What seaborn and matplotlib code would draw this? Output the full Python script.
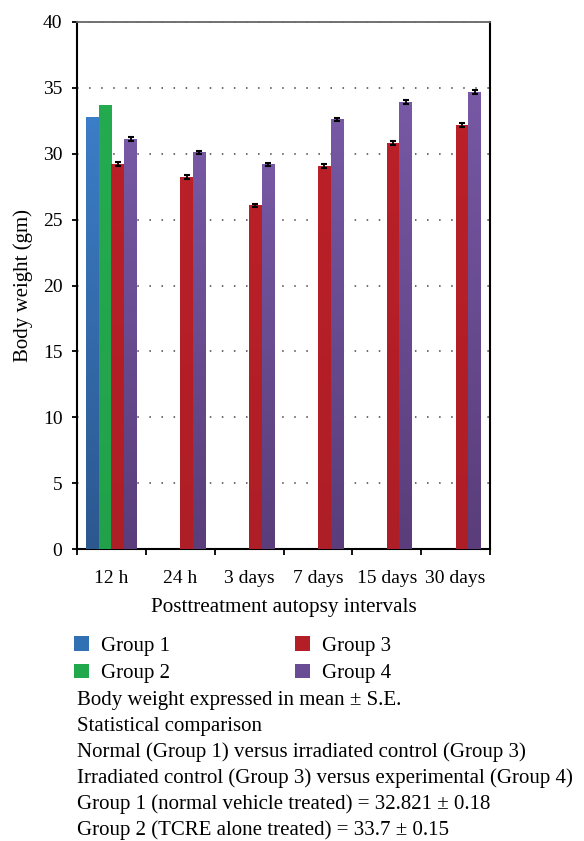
import numpy as np
import pandas as pd
import matplotlib
matplotlib.use("Agg")
import matplotlib.pyplot as plt
from matplotlib.colors import LinearSegmentedColormap
import seaborn as sns

# Data: body weight (gm) by post-treatment autopsy interval
intervals = ["12 h", "24 h", "3 days", "7 days", "15 days", "30 days"]
groups = ["Group 1", "Group 2", "Group 3", "Group 4"]
group1 = [32.821, np.nan, np.nan, np.nan, np.nan, np.nan]
group2 = [33.7, np.nan, np.nan, np.nan, np.nan, np.nan]
group3 = [29.2, 28.2, 26.1, 29.1, 30.8, 32.2]
group4 = [31.1, 30.1, 29.2, 32.6, 33.9, 34.7]
se3 = [0.15, 0.15, 0.12, 0.15, 0.15, 0.15]
se4 = [0.15, 0.12, 0.12, 0.10, 0.15, 0.15]
yticks = [0, 5, 10, 15, 20, 25, 30, 35, 40]

notes = [
    "Body weight expressed in mean \u00b1 S.E.",
    "Statistical comparison",
    "Normal (Group 1) versus irradiated control (Group 3)",
    "Irradiated control (Group 3) versus experimental (Group 4)",
    "Group 1 (normal vehicle treated) = 32.821 \u00b1 0.18",
    "Group 2 (TCRE alone treated) = 33.7 \u00b1 0.15",
]

palette = {"Group 1": "#3270b4", "Group 2": "#22a84c",
           "Group 3": "#b41f27", "Group 4": "#6a4c94"}
shades = {"Group 1": ("#2c5890", "#3b7dc6"), "Group 2": ("#21a24a", "#24ab50"),
          "Group 3": ("#ae1e26", "#ba2028"), "Group 4": ("#5a3d7a", "#7658a4")}

rows = []
for g, vals in zip(groups, [group1, group2, group3, group4]):
    for iv, v in zip(intervals, vals):
        rows.append({"interval": iv, "group": g, "weight": v})
df = pd.DataFrame(rows).dropna()

sns.set_style("white")
plt.rcParams["font.family"] = ["Liberation Serif", "DejaVu Serif"]
plt.rcParams["font.size"] = 14
plt.rcParams["text.color"] = "black"
plt.rcParams["axes.labelcolor"] = "black"
plt.rcParams["legend.labelcolor"] = "black"

fig = plt.figure(figsize=(5.84, 8.41), dpi=100)
ax = fig.add_axes([77 / 584, 1 - 549 / 841, (490 - 77) / 584, (549 - 22) / 841])

sns.barplot(data=df, x="interval", y="weight", hue="group",
            order=intervals, hue_order=groups, palette=palette,
            width=0.74, errorbar=None, saturation=1, linewidth=0,
            ax=ax, zorder=3)

# vertical shading inside each bar
for container, g in zip(ax.containers, groups):
    cmap = LinearSegmentedColormap.from_list(g, list(shades[g]))
    for bar in container:
        h = bar.get_height()
        if not np.isfinite(h) or h <= 0:
            continue
        x0 = bar.get_x()
        w = bar.get_width()
        grad = np.linspace(0, 1, 64).reshape(-1, 1)
        im = ax.imshow(grad, extent=[x0, x0 + w, 0, h], origin="lower",
                       aspect="auto", cmap=cmap, zorder=3.5)
        im.set_clip_path(bar)

# error bars for groups 3 and 4
for container, g, se in zip(ax.containers[2:], groups[2:], [se3, se4]):
    xs, ys, es = [], [], []
    for bar in container:
        h = bar.get_height()
        if not np.isfinite(h):
            continue
        xc = bar.get_x() + bar.get_width() / 2
        idx = int(round(xc))
        xs.append(xc)
        ys.append(h)
        es.append(se[idx])
    ax.errorbar(xs, ys, yerr=es, fmt="none", ecolor="black",
                elinewidth=1.3, capsize=2.3, capthick=1.5, zorder=5)

ax.set_xlim(-0.5, len(intervals) - 0.5)
ax.set_ylim(0, 40)
ax.set_yticks(yticks)
ax.set_yticklabels([str(t) for t in yticks])
ax.set_xticks(range(len(intervals)))
ax.set_xticklabels(intervals)
ax.set_xticks(np.arange(-0.5, len(intervals)), minor=True)

for y in yticks[1:]:
    ax.axhline(y, color="#444444", linewidth=1.1, linestyle=(0, (1, 6.9)), zorder=1)

ax.tick_params(axis="x", which="major", length=0, pad=15, labelsize=14, colors="black")
ax.tick_params(axis="x", which="minor", length=4, width=1.3, direction="out",
               color="black", bottom=True)
ax.tick_params(axis="y", which="major", length=3.5, width=1.3, direction="out",
               pad=7, labelsize=14, colors="black", left=True)

for side in ["left", "bottom", "right"]:
    ax.spines[side].set_color("black")
    ax.spines[side].set_linewidth(1.5)
ax.spines["top"].set_color("#666666")
ax.spines["top"].set_linewidth(1.3)

ax.set_xlabel("Posttreatment autopsy intervals", fontsize=15.2, labelpad=8)
ax.set_ylabel("Body weight (gm)", fontsize=15, labelpad=7)

sns.move_legend(ax, "upper left", bbox_to_anchor=(74 / 584, 1 - 636 / 841),
                bbox_transform=fig.transFigure, ncol=2, frameon=False,
                title=None, fontsize=15, handlelength=0.7, handleheight=0.7,
                handletextpad=0.6, columnspacing=6.0, labelspacing=0.38,
                borderpad=0, borderaxespad=0)

for i, line in enumerate(notes):
    fig.text(77 / 584, 1 - (700 + 26 * i) / 841, line, fontsize=15,
             ha="left", va="center", color="black")

fig.savefig("out.png", dpi=100)
